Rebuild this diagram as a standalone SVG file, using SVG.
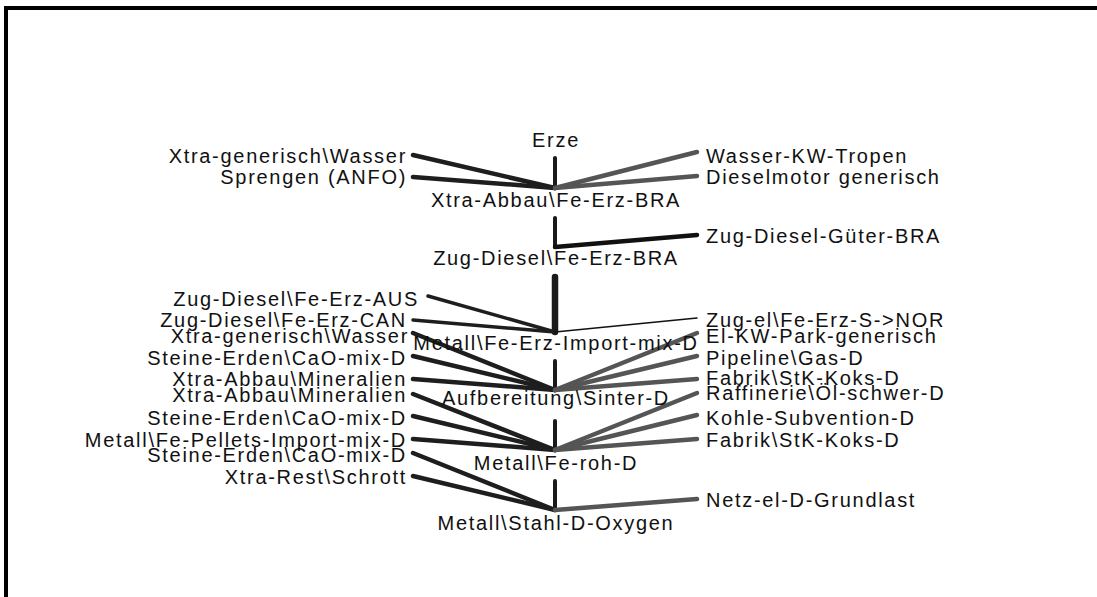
<svg xmlns="http://www.w3.org/2000/svg" width="1097" height="597" viewBox="0 0 1097 597">
<style>
text{font-family:"Liberation Sans",Arial,sans-serif;font-size:20px;letter-spacing:1.7px;fill:#111}
.l{text-anchor:end}
.r{text-anchor:start}
.c{text-anchor:middle}
.in{stroke:#1e1e1e;stroke-width:4.5;stroke-linecap:round;fill:none}
.out{stroke:#555;stroke-width:4.5;stroke-linecap:round;fill:none}
.v{stroke:#1a1a1a;stroke-width:4;stroke-linecap:round;fill:none}
</style>
<rect x="0" y="0" width="1097" height="597" fill="#fff"/>
<path d="M6,600 V8 H1100" fill="none" stroke="#000" stroke-width="4"/>
<g id="connectors">
<line class="v" x1="555" y1="158" x2="555" y2="188"/>
<line class="in" x1="413" y1="155" x2="555" y2="188"/>
<line class="in" x1="413" y1="177" x2="555" y2="188"/>
<line class="out" x1="555" y1="188" x2="697" y2="152"/>
<line class="out" x1="555" y1="188" x2="697" y2="176"/>
<line class="v" x1="555" y1="218" x2="555" y2="247"/>
<line class="in" x1="555" y1="247" x2="697" y2="235" style="stroke:#111"/>
<line class="v" x1="555" y1="277" x2="555" y2="332" style="stroke-width:6.5"/>
<line class="in" x1="428" y1="296" x2="555" y2="332" style="stroke-width:3.5"/>
<line class="in" x1="413" y1="320" x2="555" y2="332" style="stroke-width:3.5"/>
<line class="in" x1="555" y1="332" x2="697" y2="318" style="stroke-width:1.6;stroke:#111"/>
<line class="v" x1="555" y1="361" x2="555" y2="390"/>
<line class="in" x1="413" y1="333" x2="555" y2="390"/>
<line class="in" x1="413" y1="356" x2="555" y2="390"/>
<line class="in" x1="413" y1="379" x2="555" y2="390"/>
<line class="out" x1="555" y1="390" x2="697" y2="333"/>
<line class="out" x1="555" y1="390" x2="697" y2="356"/>
<line class="out" x1="555" y1="390" x2="697" y2="379"/>
<line class="v" x1="555" y1="421" x2="555" y2="450"/>
<line class="in" x1="413" y1="394" x2="555" y2="450"/>
<line class="in" x1="413" y1="416" x2="555" y2="450"/>
<line class="in" x1="413" y1="439" x2="555" y2="450"/>
<line class="out" x1="555" y1="450" x2="697" y2="393"/>
<line class="out" x1="555" y1="450" x2="697" y2="415"/>
<line class="out" x1="555" y1="450" x2="697" y2="439"/>
<line class="v" x1="555" y1="481" x2="555" y2="510"/>
<line class="in" x1="413" y1="453" x2="555" y2="510"/>
<line class="in" x1="413" y1="476" x2="555" y2="510"/>
<line class="out" x1="555" y1="510" x2="697" y2="499"/>
</g>
<g id="n-erze"><text class="c" x="556" y="147">Erze</text></g>
<g id="n-abbau"><text class="c" x="556" y="207">Xtra-Abbau\Fe-Erz-BRA</text></g>
<g id="n-zugbra"><text class="c" x="556" y="265">Zug-Diesel\Fe-Erz-BRA</text></g>
<g id="n-import"><text class="c" x="556" y="350">Metall\Fe-Erz-Import-mix-D</text></g>
<g id="n-sinter"><text class="c" x="556" y="405">Aufbereitung\Sinter-D</text></g>
<g id="n-feroh"><text class="c" x="556" y="470">Metall\Fe-roh-D</text></g>
<g id="n-stahl"><text class="c" x="556" y="530">Metall\Stahl-D-Oxygen</text></g>
<g id="n-l1"><text class="l" x="407" y="163">Xtra-generisch\Wasser</text></g>
<g id="n-l2"><text class="l" x="407" y="184">Sprengen (ANFO)</text></g>
<g id="n-l3"><text class="l" x="419" y="306">Zug-Diesel\Fe-Erz-AUS</text></g>
<g id="n-l4"><text class="l" x="407" y="327">Zug-Diesel\Fe-Erz-CAN</text></g>
<g id="n-l5"><text class="l" x="409" y="343">Xtra-generisch\Wasser</text></g>
<g id="n-l6"><text class="l" x="407" y="365">Steine-Erden\CaO-mix-D</text></g>
<g id="n-l7"><text class="l" x="407" y="386">Xtra-Abbau\Mineralien</text></g>
<g id="n-l8"><text class="l" x="407" y="402">Xtra-Abbau\Mineralien</text></g>
<g id="n-l9"><text class="l" x="407" y="425">Steine-Erden\CaO-mix-D</text></g>
<g id="n-l10"><text class="l" x="407" y="447">Metall\Fe-Pellets-Import-mix-D</text></g>
<g id="n-l11"><text class="l" x="407" y="462">Steine-Erden\CaO-mix-D</text></g>
<g id="n-l12"><text class="l" x="407" y="484">Xtra-Rest\Schrott</text></g>
<g id="n-r1"><text class="r" x="706" y="163">Wasser-KW-Tropen</text></g>
<g id="n-r2"><text class="r" x="706" y="184">Dieselmotor generisch</text></g>
<g id="n-r3"><text class="r" x="706" y="243">Zug-Diesel-Güter-BRA</text></g>
<g id="n-r4"><text class="r" x="706" y="327">Zug-el\Fe-Erz-S-&gt;NOR</text></g>
<g id="n-r5"><text class="r" x="706" y="343">El-KW-Park-generisch</text></g>
<g id="n-r6"><text class="r" x="706" y="365">Pipeline\Gas-D</text></g>
<g id="n-r7"><text class="r" x="706" y="385">Fabrik\StK-Koks-D</text></g>
<g id="n-r8"><text class="r" x="706" y="400">Raffinerie\Öl-schwer-D</text></g>
<g id="n-r9"><text class="r" x="706" y="425">Kohle-Subvention-D</text></g>
<g id="n-r10"><text class="r" x="706" y="447">Fabrik\StK-Koks-D</text></g>
<g id="n-r11"><text class="r" x="706" y="507">Netz-el-D-Grundlast</text></g>
</svg>
